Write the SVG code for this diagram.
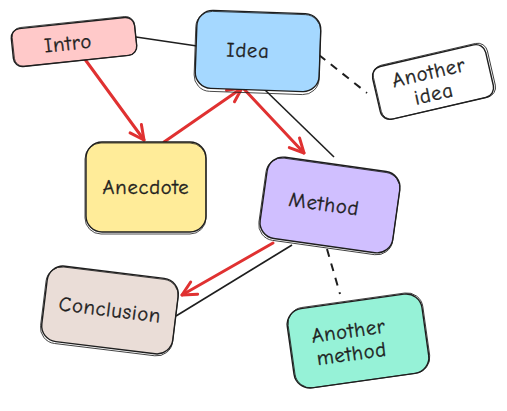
<svg xmlns="http://www.w3.org/2000/svg" width="507" height="411" viewBox="0 0 507 411">
<defs>
<style>
.box{stroke:#1e1e1e;stroke-width:1.4;}
.sk{fill:none;stroke:#1e1e1e;stroke-width:0.8;}
.t{font-family:"Comic Neue","Liberation Sans",sans-serif;font-size:20.5px;fill:#1e1e1e;stroke:#1e1e1e;stroke-width:0.35;text-anchor:middle;dominant-baseline:central;letter-spacing:0.8px;}
.ln{stroke:#1e1e1e;stroke-width:1.6;fill:none;}
.dash{stroke:#1e1e1e;stroke-width:2;fill:none;stroke-dasharray:8 7;}
.red{stroke:#e03131;stroke-width:3;fill:none;stroke-linecap:round;}
</style>
<marker id="ah" viewBox="-16 -10 20 20" markerWidth="20" markerHeight="20" refX="0" refY="0" orient="auto" markerUnits="userSpaceOnUse">
<path d="M-14,-7 L0,0 L-14,7" fill="none" stroke="#e03131" stroke-width="3" stroke-linecap="round" stroke-linejoin="round"/>
</marker>
</defs>
<rect width="507" height="411" fill="#ffffff"/>
<g id="connectors">
<line class="ln" x1="136" y1="37" x2="197" y2="46"/>
<line class="dash" x1="319" y1="55" x2="367" y2="93"/>
<line class="ln" x1="263" y1="88" x2="334" y2="157"/>
<line class="ln" x1="292" y1="245" x2="176" y2="316"/>
<line class="dash" x1="327" y1="249" x2="340" y2="294"/>
<line class="red" x1="84" y1="58" x2="144" y2="140" marker-end="url(#ah)"/>
<line class="red" x1="164" y1="142" x2="242" y2="88" marker-end="url(#ah)"/>
<line class="red" x1="243" y1="88" x2="304" y2="153" marker-end="url(#ah)"/>
<line class="red" x1="273" y1="243" x2="182" y2="295" marker-end="url(#ah)"/>
</g>
<g id="intro" transform="translate(74,42) rotate(-6)">
<rect class="box" x="-62" y="-19" width="124" height="38" rx="9" fill="#ffc9c9"/>
<rect class="sk" x="-61" y="-20" width="123" height="39" rx="9"/>
<text class="t" x="-6" y="1">Intro</text>
</g>
<g id="idea" transform="translate(258,51) rotate(2)">
<rect class="box" x="-62" y="-39" width="124" height="78" rx="16" fill="#a5d8ff"/>
<rect class="sk" x="-63" y="-38" width="125" height="80" rx="16"/>
<text class="t" x="-10" y="0">Idea</text>
</g>
<g id="another-idea" transform="translate(433,82) rotate(-13)">
<rect class="box" x="-58" y="-27" width="116" height="54" rx="10" fill="#ffffff"/>
<rect class="sk" x="-57" y="-28" width="117" height="55" rx="10"/>
<text class="t" x="-2" y="-10">Another</text>
<text class="t" x="-2" y="12">idea</text>
</g>
<g id="anecdote" transform="translate(146,187)">
<rect class="box" x="-60" y="-45" width="120" height="90" rx="16" fill="#ffec99"/>
<rect class="sk" x="-61" y="-44" width="121" height="91" rx="16"/>
<text class="t" x="0" y="0">Anecdote</text>
</g>
<g id="method" transform="translate(330,205) rotate(8)">
<rect class="box" x="-67" y="-41" width="134" height="82" rx="16" fill="#d0bfff"/>
<rect class="sk" x="-68" y="-40" width="135" height="83" rx="16"/>
<text class="t" x="-6" y="0">Method</text>
</g>
<g id="conclusion" transform="translate(110,310) rotate(7)">
<rect class="box" x="-66" y="-38" width="132" height="76" rx="16" fill="#eaddd7"/>
<rect class="sk" x="-67" y="-37" width="133" height="77" rx="16"/>
<text class="t" x="0" y="0">Conclusion</text>
</g>
<g id="another-method" transform="translate(358,341) rotate(-8)">
<rect class="box" x="-68" y="-40" width="136" height="80" rx="16" fill="#96f2d7"/>
<rect class="sk" x="-67" y="-41" width="136" height="81" rx="16"/>
<text class="t" x="-8" y="-11">Another</text>
<text class="t" x="-8" y="12">method</text>
</g>
</svg>
